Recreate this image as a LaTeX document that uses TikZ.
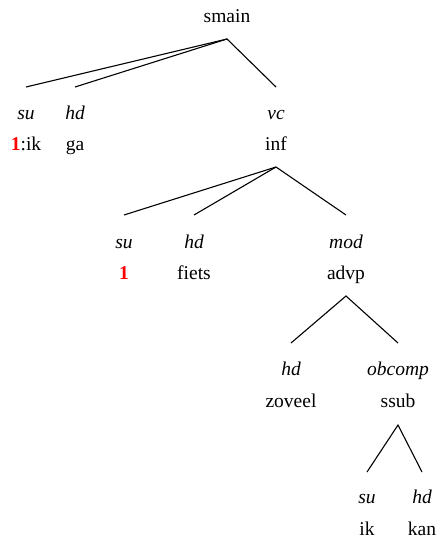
\documentclass[tikz,border=0pt]{standalone}
\usepackage{fontspec}
\setmainfont{Liberation Serif}
\usetikzlibrary{positioning}

\begin{document}
\begin{tikzpicture}[x=1pt, y=-1pt,
    every node/.style={font=\fontsize{19.5}{22}\selectfont, inner sep=0pt, anchor=base},
    rel/.style={font=\fontsize{19.5}{22}\selectfont\itshape},
    edge/.style={line width=1.1pt},
    idx/.style={text=red, font=\fontsize{19.5}{22}\selectfont\bfseries}]
        \useasboundingbox (0,0) rectangle (438,540);
        % top level: smain
        \node (smain) at (227,23) {smain};
        \coordinate (a-smain) at (227,39);
        \coordinate (e-su1) at (26,87);
        \coordinate (e-hd1) at (75,87);
        \coordinate (e-vc) at (276,87);
        \node[rel] (su1) at (26,120) {su};
        \node[rel] (hd1) at (75,120) {hd};
        \node[rel] (vc) at (276,120) {vc};
        \node (ik1) at (26,151) {\textcolor{red}{\textbf{1}}:ik};
        \node (ga) at (75,151) {ga};
        \node (inf) at (276,151) {inf};
        \draw[edge] (e-su1) -- (a-smain) -- (e-vc);
        \draw[edge] (a-smain) -- (e-hd1);
        % inf
        \coordinate (a-inf) at (276,167);
        \coordinate (e-su2) at (124,215);
        \coordinate (e-hd2) at (194,215);
        \coordinate (e-mod) at (346,215);
        \node[rel] (su2) at (124,248) {su};
        \node[rel] (hd2) at (194,248) {hd};
        \node[rel] (mod) at (346,248) {mod};
        \node[idx] (one) at (124,279) {1};
        \node (fiets) at (194,279) {fiets};
        \node (advp) at (346,279) {advp};
        \draw[edge] (e-su2) -- (a-inf) -- (e-mod);
        \draw[edge] (a-inf) -- (e-hd2);
        % advp
        \coordinate (a-advp) at (346,296);
        \coordinate (e-hd3) at (291,343);
        \coordinate (e-obcomp) at (398,343);
        \node[rel] (hd3) at (291,375) {hd};
        \node[rel] (obcomp) at (398,375) {obcomp};
        \node (zoveel) at (291,407) {zoveel};
        \node (ssub) at (398,407) {ssub};
        \draw[edge] (e-hd3) -- (a-advp) -- (e-obcomp);
        % ssub
        \coordinate (a-ssub) at (398,425);
        \coordinate (e-su4) at (367,472);
        \coordinate (e-hd4) at (422,472);
        \node[rel] (su4) at (367,503) {su};
        \node[rel] (hd4) at (422,503) {hd};
        \node (ik2) at (367,535) {ik};
        \node (kan) at (422,535) {kan};
        \draw[edge] (e-su4) -- (a-ssub) -- (e-hd4);
    \end{tikzpicture}
\end{document}
